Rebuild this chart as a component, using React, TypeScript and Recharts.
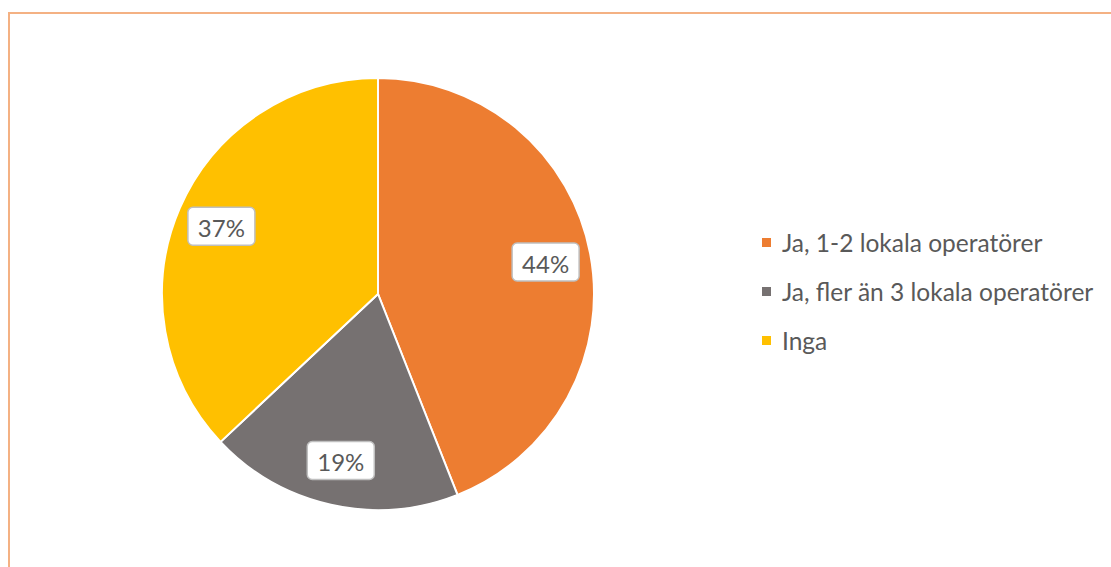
import React from "react";
import { PieChart, Pie, Cell } from "recharts";

const categories = ["Ja, 1-2 lokala operatörer", "Ja, fler än 3 lokala operatörer", "Inga"];
const values = [44, 19, 37];
const colors = ["#ED7D31", "#767171", "#FFC000"];

const data = categories.map((name, i) => ({ name, value: values[i] }));
const total = values.reduce((a, b) => a + b, 0);

const RADIAN = Math.PI / 180;
const FONT = "Lato, 'Noto Sans', sans-serif";

const renderLabel = (props: any) => {
  const { cx, cy, midAngle, outerRadius, value } = props;
  const r = outerRadius * 0.79;
  const x = cx + r * Math.cos(-midAngle * RADIAN);
  const y = cy + r * Math.sin(-midAngle * RADIAN);
  const w = 67;
  const h = 38;
  const pct = Math.round((value / total) * 100) + "%";
  return (
    <g>
      <rect x={x - w / 2} y={y - h / 2} width={w} height={h} rx={5} ry={5} fill="#FFFFFF" stroke="#BFBFBF" strokeWidth={1.5} />
      <text x={x} y={y + 1} textAnchor="middle" dominantBaseline="central" fill="#595959" fontSize={24} fontFamily={FONT}>
        {pct}
      </text>
    </g>
  );
};

const LegendBox = () => (
  <div style={{ position: "absolute", left: 762, top: 218, fontFamily: FONT, fontSize: 24.5, color: "#595959" }}>
    {categories.map((c, i) => (
      <div key={c} style={{ display: "flex", alignItems: "center", height: 49, whiteSpace: "nowrap" }}>
        <div style={{ width: 9, height: 9, background: colors[i], marginRight: 11 }} />
        <span>{c}</span>
      </div>
    ))}
  </div>
);

export default function App() {
  return (
    <div style={{ position: "absolute", left: 0, top: 0, width: 1111, height: 567, background: "#fff", overflow: "hidden" }}>
      <div style={{ position: "absolute", left: 8, top: 12, width: 1200, height: 700, border: "2px solid #F4B183", boxSizing: "border-box" }} />
      <div style={{ position: "absolute", left: 0, top: 0 }}>
        <PieChart width={1111} height={567} margin={{ top: 0, right: 0, bottom: 0, left: 0 }}>
          <Pie
            data={data}
            dataKey="value"
            nameKey="name"
            cx={378}
            cy={294}
            outerRadius={216}
            startAngle={90}
            endAngle={-270}
            stroke="#FFFFFF"
            strokeWidth={2}
            label={renderLabel}
            labelLine={false}
            isAnimationActive={false}
          >
            {data.map((d, i) => (
              <Cell key={d.name} fill={colors[i]} />
            ))}
          </Pie>
        </PieChart>
      </div>
      <LegendBox />
    </div>
  );
}
